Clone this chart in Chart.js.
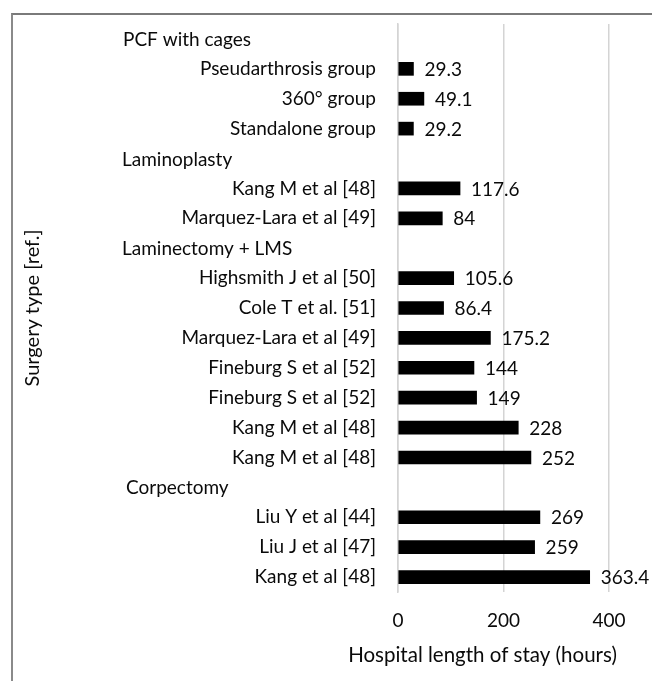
<!DOCTYPE html>
<html>
<head>
<meta charset="utf-8">
<script src="https://cdn.jsdelivr.net/npm/chart.js@4"></script>
<style>
  html, body { margin: 0; padding: 0; background: #fff; }
  #wrap { position: relative; width: 652px; height: 681px; overflow: hidden; }
  #frame { position: absolute; left: 11px; top: 13px; width: 700px; height: 700px;
           border-top: 2px solid #7a7a7a; border-left: 2px solid #8a8a8a; }
  canvas { position: absolute; left: 0; top: 0; }
</style>
</head>
<body>
<div id="wrap">
  <div id="frame"></div>
  <canvas id="stayChart" width="652" height="681"></canvas>
</div>
<script>
// Rows from top to bottom; group headers have no bar
const categories = [
  'PCF with cages',
  'Pseudarthrosis group',
  '360° group',
  'Standalone group',
  'Laminoplasty',
  'Kang M et al [48]',
  'Marquez-Lara et al [49]',
  'Laminectomy + LMS',
  'Highsmith J et al [50]',
  'Cole T et al. [51]',
  'Marquez-Lara et al [49]',
  'Fineburg S et al [52]',
  'Fineburg S et al [52]',
  'Kang M et al [48]',
  'Kang M et al [48]',
  'Corpectomy',
  'Liu Y et al [44]',
  'Liu J et al [47]',
  'Kang et al [48]'
];
const groupHeaders = ['PCF with cages', 'Laminoplasty', 'Laminectomy + LMS', 'Corpectomy'];
const stayHours = [
  null, 29.3, 49.1, 29.2,
  null, 117.6, 84,
  null, 105.6, 86.4, 175.2, 144, 149, 228, 252,
  null, 269, 259, 363.4
];
const xTicks = [0, 200, 400];

const headerLeft = { 'PCF with cages': 123, 'Laminoplasty': 122, 'Laminectomy + LMS': 122, 'Corpectomy': 126 };
const FONT = 'Lato';
const textColor = '#0a0a0a';
const xTitle = 'Hospital length of stay (hours)';

const isHeader = i => groupHeaders.includes(categories[i]) && stayHours[i] === null;

// value labels at bar ends, group headers and the x axis title
const labelsPlugin = {
  id: 'labels',
  afterDatasetsDraw(chart) {
    const ctx = chart.ctx;
    const meta = chart.getDatasetMeta(0);
    ctx.save();
    ctx.font = '19px ' + FONT;
    ctx.fillStyle = textColor;
    ctx.textBaseline = 'middle';
    ctx.textAlign = 'left';
    meta.data.forEach((bar, i) => {
      if (stayHours[i] === null) return;
      ctx.fillText(String(stayHours[i]), bar.x + 11, bar.y + 1);
    });
    const yScale = chart.scales.y;
    categories.forEach((c, i) => {
      if (!isHeader(i)) return;
      ctx.fillText(c, headerLeft[c], yScale.getPixelForValue(i) + 1);
    });
    // Excel placed the axis title a little left of the plot centre
    const area = chart.chartArea;
    ctx.font = '20.5px ' + FONT;
    ctx.textAlign = 'center';
    ctx.fillText(xTitle, (area.left + area.right) / 2 - 21, 655);
    ctx.restore();
  }
};

new Chart(document.getElementById('stayChart').getContext('2d'), {
  type: 'bar',
  data: {
    labels: categories,
    datasets: [{
      data: stayHours,
      backgroundColor: '#000',
      barThickness: 13
    }]
  },
  options: {
    indexAxis: 'y',
    responsive: false,
    animation: false,
    layout: { padding: { top: 24, right: 43, left: 0, bottom: 0 } },
    plugins: { legend: { display: false }, tooltip: { enabled: false } },
    scales: {
      x: {
        min: 0,
        max: 400,
        afterBuildTicks: s => { s.ticks = xTicks.map(v => ({ value: v })); },
        afterFit: s => { s.height = 89; },
        grid: { color: '#d4d4d4', lineWidth: 1.5, drawTicks: false },
        border: { display: false },
        ticks: { color: textColor, font: { family: FONT, size: 19 }, padding: 17 }
      },
      y: {
        afterFit: s => { s.width = 398; s.paddingTop = 0; s.paddingBottom = 0; },
        grid: { display: false, drawTicks: false },
        border: { display: true, color: '#d4d4d4', width: 1.5 },
        ticks: {
          color: textColor,
          font: { family: FONT, size: 19 },
          padding: 22,
          autoSkip: false,
          callback: (v, i) => isHeader(i) ? '' : categories[i]
        },
        title: {
          display: true,
          text: 'Surgery type [ref.]',
          color: textColor,
          font: { family: FONT, size: 20 },
          padding: { top: 21, bottom: 0 }
        }
      }
    }
  },
  plugins: [labelsPlugin]
});
</script>
</body>
</html>
